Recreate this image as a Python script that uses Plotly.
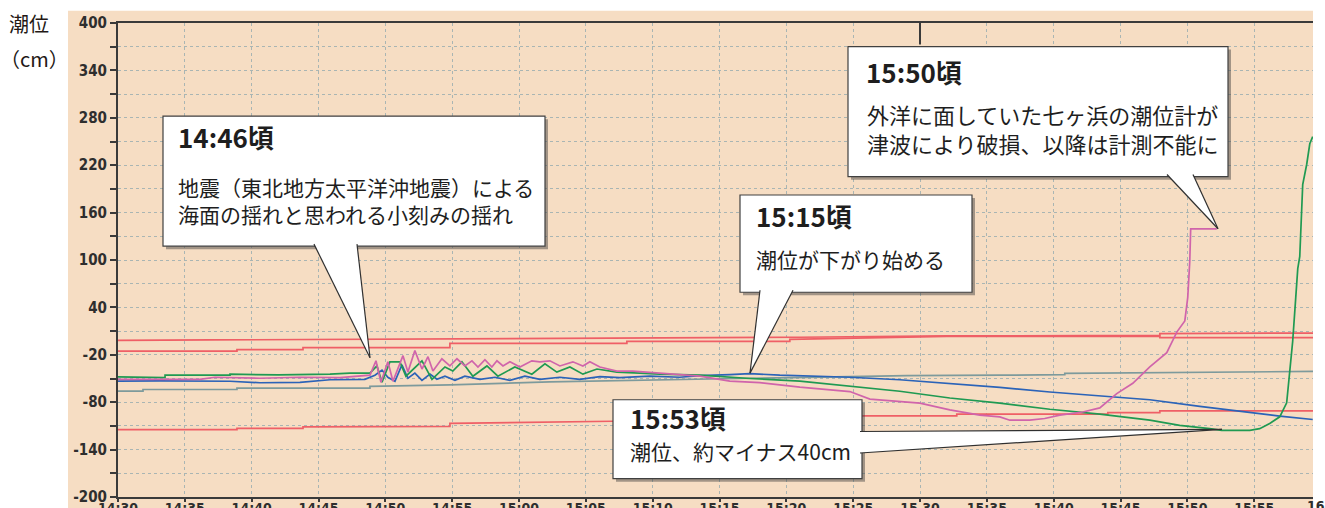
import plotly.graph_objects as go

# ---------------- data (time = minutes after 14:30, level = cm) ----------------
t_red_a = [0, 20.3, 37.5, 51.0, 62.0, 74.05, 74.05, 77.94, 77.94, 89.4]
v_red_a = [-1.7, -0.4, 0.9, 2.2, 3.9, 3.9, 4.6, 4.6, 6.9, 7.5]

t_red_b = [0, 8.9, 8.9, 13.84, 13.84, 24.83, 24.83, 38.07, 38.07, 50.26, 50.26, 62.0, 74.05, 77.94, 77.94, 89.4]
v_red_b = [-15.3, -15.3, -13.4, -13.4, -10.8, -10.8, -5.6, -5.6, -3.0, -3.0, -0.4, 3.4, 3.4, 3.4, 1.8, 1.8]

t_red_c = [0, 8.9, 8.9, 13.84, 13.84, 24.83, 24.83, 37.0, 55.87, 62.75, 62.75, 74.05, 74.05, 77.94, 77.94, 89.4]
v_red_c = [-114.8, -114.8, -113.1, -113.1, -111.2, -110.6, -106.7, -104.1, -97.2, -97.2, -95.0, -95.0,
           -93.1, -93.1, -91.1, -91.1]

t_gray = [0, 1.87, 1.87, 8.9, 8.9, 18.85, 18.85, 24.83, 32.3, 39.8, 47.27, 54.75, 59.0, 66.0, 70.83,
          70.83, 77.94, 84.67, 89.4]
v_gray = [-66.1, -66.1, -63.9, -63.9, -62.2, -62.2, -60.0, -58.1, -54.2, -51.6, -49.7, -47.7, -46.4,
          -45.8, -45.1, -43.6, -42.5, -41.9, -41.0]

t_blue = [0, 3.14, 8.38, 10.62, 13.61, 15.86, 18.47, 19.22, 19.75, 20.19, 20.72, 21.24, 21.69, 22.21,
          22.74, 23.34, 23.86, 24.46, 25.21, 25.95, 27.08, 28.2, 29.32, 30.44, 31.56, 33.06, 34.55,
          36.05, 37.55, 39.79, 42.03, 43.53, 45.77, 47.27, 49.51, 51.01, 54.75, 58.49, 62.23, 65.97,
          69.71, 73.45, 77.19, 80.93, 84.67, 86.91, 89.38]
v_blue = [-53.2, -52.9, -53.5, -55.4, -54.8, -51.6, -51.0, -45.8, -39.3, -48.4, -53.5, -32.8, -49.7,
          -43.2, -52.3, -44.5, -51.0, -47.1, -52.3, -47.1, -51.0, -48.4, -52.3, -47.1, -51.0, -48.4,
          -51.0, -47.7, -49.0, -47.1, -48.4, -46.4, -45.1, -43.8, -45.8, -46.4, -48.4, -51.6, -56.1,
          -61.3, -67.1, -71.7, -76.9, -85.3, -93.1, -97.6, -101.9]

t_green = [0, 3.52, 3.52, 8.38, 8.38, 12.0, 15.86, 17.35, 18.85, 19.37, 19.75, 20.34, 21.09, 21.54,
           22.74, 23.49, 24.46, 25.05, 25.73, 26.55, 27.6, 28.42, 29.69, 30.96, 31.94, 32.83, 33.81,
           34.78, 35.83, 37.32, 39.04, 40.54, 43.53, 47.27, 51.01, 54.75, 58.49, 62.23, 65.97, 69.71,
           73.45, 77.19, 79.43, 81.67, 82.57, 84.67, 85.41, 86.16, 86.91, 87.43, 87.88, 88.11, 88.26,
           88.41, 88.63, 88.93, 89.16, 89.38]
v_green = [-48.0, -48.8, -45.8, -45.8, -44.5, -45.5, -44.5, -43.2, -43.2, -34.1, -54.8, -28.9, -28.9,
           -47.1, -27.6, -51.0, -35.4, -40.6, -28.9, -47.1, -34.1, -47.1, -35.4, -44.5, -31.5, -41.9,
           -35.4, -44.5, -38.0, -41.9, -43.2, -44.5, -45.8, -50.0, -53.2, -59.6, -66.1, -74.7, -81.1,
           -88.9, -95.0, -102.8, -109.3, -113.5, -115.7, -115.7, -113.5, -107.0, -98.5, -80.8, -3.0,
           52.7, 89.0, 104.6, 195.3, 221.2, 247.1, 256.2]

t_pink = [0, 6.13, 7.26, 10.62, 13.61, 16.6, 18.85, 19.3, 19.67, 20.19, 20.57, 21.32, 21.69, 22.21,
          22.74, 23.19, 23.56, 24.23, 24.83, 25.36, 25.95, 26.48, 26.93, 27.45, 27.97, 28.35, 28.8,
          29.32, 30.07, 30.96, 31.56, 32.31, 33.06, 34.03, 34.78, 35.3, 36.05, 37.32, 38.52, 39.79,
          43.53, 45.77, 48.02, 51.01, 54.75, 56.25, 58.49, 59.99, 62.23, 64.47, 65.97, 66.72, 68.21,
          69.33, 70.46, 72.18, 73.45, 74.72, 75.92, 77.19, 78.46, 79.21, 79.81, 80.03, 80.18, 80.25,
          82.2]
v_pink = [-51.0, -51.0, -48.4, -49.7, -48.4, -49.0, -45.8, -27.6, -54.8, -28.9, -53.5, -21.1, -41.9,
          -14.7, -38.0, -22.4, -40.6, -25.0, -34.1, -25.0, -34.1, -27.6, -35.4, -26.3, -35.4, -27.6,
          -34.1, -28.9, -35.4, -27.6, -28.9, -27.6, -34.1, -28.9, -34.1, -28.9, -35.4, -40.6, -40.6,
          -42.3, -47.1, -53.2, -55.2, -61.0, -66.5, -76.0, -79.1, -81.1, -89.8, -96.3, -98.5, -102.8,
          -102.8, -100.6, -96.3, -92.4, -87.2, -69.1, -56.1, -35.4, -17.3, 8.7, 22.9, 52.7, 98.1,
          139.5, 139.5]

x_tick_vals = [0, 5, 10, 15, 20, 25, 30, 35, 40, 45, 50, 55, 60, 65, 70, 75, 80, 85]
x_tick_text = ["14:30", "14:35", "14:40", "14:45", "14:50", "14:55", "15:00", "15:05", "15:10",
               "15:15", "15:20", "15:25", "15 30", "15:35", "15:40", "15:45", "15:50", "15:55"]
y_tick_vals = [-200, -170, -140, -110, -80, -50, -20, 10, 40, 70, 100, 130, 160, 190, 220, 250, 280,
               310, 340, 370, 400]
y_tick_text = ["-200", "", "-140", "", "-80", "", "-20", "", "40", "", "100", "", "160", "", "220", "",
               "280", "", "340", "", "400"]

# ---------------- layout geometry ----------------
# design coordinates are those of the 1325x508 reference; the page is a little taller
W, H_REF = 1325, 508
H = 528
K = H / H_REF
ML, MR = 118, 12
TOP_REF, BOT_REF = 22, 485
MT = round(TOP_REF * K)
MB = H - MT - round((BOT_REF - TOP_REF) * K)
PW = W - ML - MR


def px(x):
    return (x - ML) / PW


def py(y):
    return (BOT_REF - y) / (BOT_REF - TOP_REF)


RED = "#ef5f66"
PINK = "#d064ab"
GREEN = "#1f9a52"
BLUE = "#2b63b8"
GRAY = "#7d9a9c"
BEIGE = "#f6ddc3"

fig = go.Figure()
series = [
    (t_gray, v_gray, GRAY),
    (t_red_a, v_red_a, RED),
    (t_red_b, v_red_b, RED),
    (t_red_c, v_red_c, RED),
    (t_blue, v_blue, BLUE),
    (t_green, v_green, GREEN),
    (t_pink, v_pink, PINK),
]
for tx, vy, col in series:
    fig.add_trace(go.Scatter(x=tx, y=vy, mode="lines", line=dict(color=col, width=1.7),
                             hoverinfo="skip", showlegend=False))

shapes = [
    dict(type="rect", xref="paper", yref="paper", x0=px(68), x1=1, y0=py(515), y1=py(10),
         fillcolor=BEIGE, line=dict(width=0), layer="below"),
    dict(type="line", xref="x", yref="paper", x0=60, x1=60, y0=py(43), y1=1,
         line=dict(color="#3a3a3a", width=2)),
]
annotations = []
JP = "Noto Sans CJK JP"


def callout(x0, y0, x1, y1, base1, tip, base2, heading, hpos, lines, lpos, size_h=26, size_b=21):
    shapes.append(dict(type="rect", xref="paper", yref="paper", x0=px(x0 + 3), x1=px(x1 + 3),
                       y0=py(y1 + 3), y1=py(y0 + 3), fillcolor="rgba(60,60,60,0.45)",
                       line=dict(width=0)))
    shapes.append(dict(type="rect", xref="paper", yref="paper", x0=px(x0), x1=px(x1), y0=py(y1),
                       y1=py(y0), fillcolor="white", line=dict(color="#404040", width=1.2)))
    path = "M{},{} L{},{} L{},{} Z".format(px(base1[0]), py(base1[1]), px(tip[0]), py(tip[1]),
                                           px(base2[0]), py(base2[1]))
    shapes.append(dict(type="path", xref="paper", yref="paper", path=path, fillcolor="white",
                       line=dict(width=0)))
    for b in (base1, base2):
        shapes.append(dict(type="line", xref="paper", yref="paper", x0=px(b[0]), y0=py(b[1]),
                           x1=px(tip[0]), y1=py(tip[1]), line=dict(color="#303030", width=1.2)))
    annotations.append(dict(xref="paper", yref="paper", x=px(hpos[0]), y=py(hpos[1]),
                            text="<b>" + heading + "</b>", showarrow=False, xanchor="left",
                            yanchor="middle", font=dict(family=JP, size=size_h, color="#1e1e1e")))
    body = "<br>".join(lines)
    annotations.append(dict(xref="paper", yref="paper", x=px(lpos[0]), y=py(lpos[1]), text=body,
                            showarrow=False, xanchor="left", yanchor="top", align="left",
                            font=dict(family=JP, size=size_b, color="#1e1e1e")))


callout(163, 113, 545, 240, (314, 238), (370, 349), (357, 238), "14:46頃", (176, 133),
        ["地震（東北地方太平洋沖地震）による", "海面の揺れと思われる小刻みの揺れ"], (176, 166))
callout(740, 190, 972, 285, (760, 283), (750, 364), (793, 283), "15:15頃", (754, 210),
        ["潮位が下がり始める"], (754, 236))
callout(848, 45, 1228, 172, (1167, 170), (1218, 223), (1193, 170), "15:50頃", (864, 69),
        ["外洋に面していた七ヶ浜の潮位計が", "津波により破損、以降は計測不能に"], (865, 93), size_b=22)
callout(613, 390, 862, 467, (860, 421), (1222, 419), (860, 442), "15:53頃", (628, 407),
        ["潮位、約マイナス40cm"], (628, 423))

tickfont = dict(family="DejaVu Sans Condensed, Noto Sans", size=15, color="#2e2e2e", weight="bold")
xtickfont = dict(family="DejaVu Sans Condensed, Noto Sans", size=14, color="#2e2e2e", weight="bold")

annotations.append(dict(xref="paper", yref="paper", x=px(1305), y=py(494), text="16", showarrow=False,
                        xanchor="left", yanchor="middle", font=xtickfont))
annotations.append(dict(xref="paper", yref="paper", x=px(29), y=py(22), text="潮位", showarrow=False,
                        xanchor="center", yanchor="middle", font=dict(family=JP, size=20, color="#231815")))
annotations.append(dict(xref="paper", yref="paper", x=px(34), y=py(57), text="（cm）", showarrow=False,
                        xanchor="center", yanchor="middle", font=dict(family=JP, size=20, color="#231815")))

grid = dict(gridcolor="#a9b5b3", gridwidth=1.3, griddash="3px,3px")

fig.update_layout(
    width=W, height=H, margin=dict(l=ML, r=MR, t=MT, b=MB),
    paper_bgcolor="white", plot_bgcolor=BEIGE,
    shapes=shapes, annotations=annotations, showlegend=False,
    xaxis=dict(range=[0, 89.4], tickmode="array", tickvals=x_tick_vals, ticktext=x_tick_text,
               showline=True, linecolor="#3a3a3a", linewidth=2, mirror=True, ticks="outside",
               ticklen=3, tickwidth=1.5, tickcolor="#3a3a3a", tickfont=xtickfont, zeroline=False,
               ticklabelstandoff=-6, **grid),
    yaxis=dict(range=[-200, 400], tickmode="array", tickvals=y_tick_vals, ticktext=y_tick_text,
               showline=True, linecolor="#3a3a3a", linewidth=2, ticks="outside", ticklen=6,
               tickwidth=1.5, tickcolor="#3a3a3a", tickfont=tickfont, zeroline=False, **grid),
)

fig.write_html("out.html", config={"displayModeBar": False},
               post_script="document.body.style.margin='0px';document.body.style.overflow='hidden';")
